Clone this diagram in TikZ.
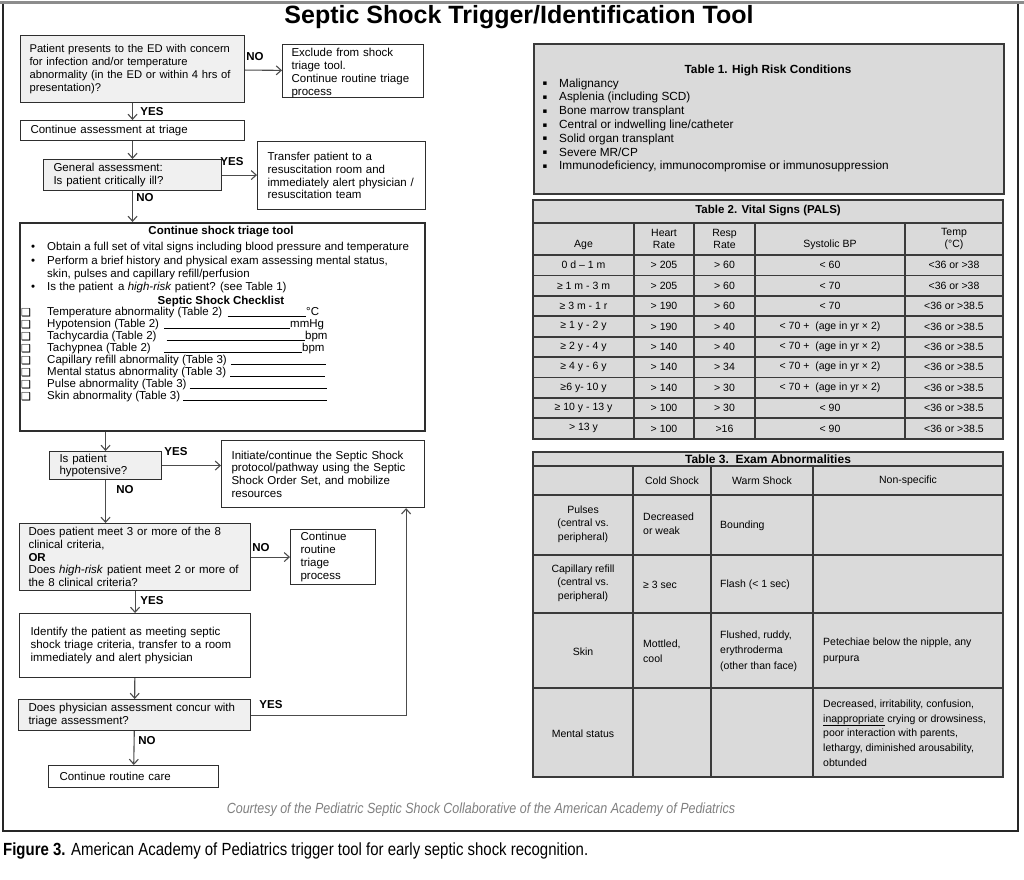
\documentclass[tikz,border=0pt]{standalone}
\usepackage{fontspec}
\setmainfont{Liberation Sans}
\newfontfamily\dejavu{DejaVu Sans}
\newfontfamily\narrowfont[FakeStretch=0.85]{Liberation Sans}
\usetikzlibrary{arrows.meta}
\newcommand{\fcfont}{\fontsize{11.5}{12.7}\selectfont}
\newcommand{\tbfont}{\fontsize{10.5}{12}\selectfont}
\newcommand{\tcfont}{\fontsize{10.5}{14.7}\selectfont}
\newcommand{\tafont}{\fontsize{11.8}{13.8}\selectfont}
\definecolor{boxline}{HTML}{2E2E2E}
\definecolor{tabfill}{HTML}{DADADA}
\definecolor{tabline}{HTML}{3A3A3A}
\definecolor{shadefill}{HTML}{F0F0F0}
\tikzset{
  fbox/.style={draw=boxline, line width=1.1pt, anchor=north west, align=left, font=\fcfont, inner xsep=10pt, inner ysep=0pt, fill=white},
  shaded/.style={fill=shadefill},
  arr/.style={-{Straight Barb[length=5pt,width=9pt]}, draw=black!70, line width=1.1pt},
  lab/.style={font=\fcfont\bfseries, inner sep=0pt},
  txt/.style={font=\fcfont, inner sep=0pt, text height=8pt, text depth=2.5pt, anchor=west},
  chk/.style={font=\dejavu\fontsize{11}{12}\selectfont, inner sep=0pt, anchor=west},
  uline/.style={draw=black, line width=0.8pt},
  tline/.style={draw=tabline, line width=1.8pt},
  t2/.style={font=\tbfont, inner sep=0pt, align=center},
  t3/.style={font=\tcfont, inner sep=0pt, align=center},
  t3l/.style={font=\tcfont, inner sep=0pt, align=left, anchor=west},
  t1/.style={font=\tafont, inner sep=0pt, anchor=west, text height=8.5pt, text depth=2.5pt},
  sq/.style={font=\dejavu\fontsize{7}{8}\selectfont, inner sep=0pt},
}
\begin{document}
\begin{tikzpicture}[x=1pt,y=-1pt]
\useasboundingbox (0,0) rectangle (1024,879);
\fill[white] (0,0) rectangle (1024,879);
% outer frame
\draw[black!85, line width=1.2pt] (3,2) -- (3,831) -- (1018,831) -- (1018,2);
\draw[black!45, line width=2.5pt] (0,2.5) -- (1024,2.5);

\node[font=\fontsize{25}{30}\selectfont\bfseries, inner sep=0pt] (title) at (519,17.5) {Septic Shock Trigger/Identification Tool};

% ---------------- flowchart ----------------
\node[fbox, shaded, inner xsep=9pt, text width=206pt, minimum height=67pt, font=\fontsize{11.2}{12.7}\selectfont] (a) at (20,35)
  {Patient presents to the ED with concern\\for infection and/or temperature\\abnormality (in the ED or within 4 hrs of\\presentation)?};
\node[fbox, inner xsep=9pt, text width=123pt, minimum height=49pt, font=\fontsize{11.5}{12.9}\selectfont] (b) at (282,44)
  {\vphantom{X}\\[-9pt]Exclude from shock\\triage tool.\\Continue routine triage\\process};
\node[fbox, text width=204pt, minimum height=20pt] (c) at (20,120) {Continue assessment at triage};
\node[fbox, shaded, text width=158pt, minimum height=31pt] (d) at (43,159)
  {General assessment:\\Is patient critically ill?};
\node[fbox, text width=148pt, minimum height=68pt] (e) at (257,141)
  {Transfer patient to a\\resuscitation room and\\immediately alert physician /\\resuscitation team};

\node[fbox, line width=2pt, minimum width=405pt, minimum height=208pt, inner sep=0pt] (f) at (19,222) {};
\node[lab] (ftitle) at (221,232) {Continue shock triage tool};
\node[txt] (fb1) at (31,248) {•};
\node[txt] (ft1) at (47,248) {Obtain a full set of vital signs including blood pressure and temperature};
\node[txt] (fb2) at (31,262) {•};
\node[txt] (ft2) at (47,262) {Perform a brief history and physical exam assessing mental status,};
\node[txt] (ft2b) at (47,275) {skin, pulses and capillary refill/perfusion};
\node[txt] (fb3) at (31,288) {•};
\node[txt] (ft3) at (47,288) {Is the patient \,a \textit{high-risk} patient? (see Table 1)};
\node[lab] (ctitle) at (221,302) {Septic Shock Checklist};

\node[chk] (k1) at (21,313) {❑};
\node[txt] (c1) at (47,313) {Temperature abnormality (Table 2)};
\node[txt] (u1) at (306,313) {°C};
\node[chk] (k2) at (21,325) {❑};
\node[txt] (c2) at (47,325) {Hypotension (Table 2)};
\node[txt] (u2) at (290,325) {mmHg};
\node[chk] (k3) at (21,337) {❑};
\node[txt] (c3) at (47,337) {Tachycardia (Table 2)};
\node[txt] (u3) at (305,337) {bpm};
\node[chk] (k4) at (21,349) {❑};
\node[txt] (c4) at (47,349) {Tachypnea (Table 2)};
\node[txt] (u4) at (302,349) {bpm};
\node[chk] (k5) at (21,361) {❑};
\node[txt] (c5) at (47,361) {Capillary refill abnormality (Table 3)};
\node[chk] (k6) at (21,373) {❑};
\node[txt] (c6) at (47,373) {Mental status abnormality (Table 3)};
\node[chk] (k7) at (21,385) {❑};
\node[txt] (c7) at (47,385) {Pulse abnormality (Table 3)};
\node[chk] (k8) at (21,397) {❑};
\node[txt] (c8) at (47,397) {Skin abnormality (Table 3)};
\coordinate (e5) at (326,361.5);
\coordinate (e6) at (325,373.5);
\coordinate (e7) at (327,385.5);
\coordinate (e8) at (327,397.5);
\draw[uline] ([xshift=5pt,yshift=-1pt]c1.base east) -- ([yshift=-1pt]u1.base west);
\draw[uline] ([xshift=5pt,yshift=-1pt]c2.base east) -- ([yshift=-1pt]u2.base west);
\draw[uline] ([xshift=10pt,yshift=-1pt]c3.base east) -- ([yshift=-1pt]u3.base west);
\draw[uline] ([xshift=13pt,yshift=-1pt]c4.base east) -- ([yshift=-1pt]u4.base west);
\draw[uline] ([xshift=4pt,yshift=-1pt]c5.base east) -- ([yshift=-1pt]c5.base east -| e5);
\draw[uline] ([xshift=4pt,yshift=-1pt]c6.base east) -- ([yshift=-1pt]c6.base east -| e6);
\draw[uline] ([xshift=3pt,yshift=-1pt]c7.base east) -- ([yshift=-1pt]c7.base east -| e7);
\draw[uline] ([xshift=3pt,yshift=-1pt]c8.base east) -- ([yshift=-1pt]c8.base east -| e8);

\node[fbox, shaded, text width=92pt, minimum height=28pt] (g) at (49,451) {Is patient\\hypotensive?};
\node[fbox, text width=183pt, minimum height=67pt] (h) at (221,440)
  {Initiate/continue the Septic Shock\\protocol/pathway using the Septic\\Shock Order Set, and mobilize\\resources};
\node[fbox, shaded, inner xsep=9pt, text width=213pt, minimum height=67pt] (i) at (19,523)
  {Does patient meet 3 or more of the 8\\clinical criteria,\\\textbf{OR}\\Does \textit{high-risk} patient meet 2 or more of\\the 8 clinical criteria?};
\node[fbox, text width=65pt, minimum height=55pt] (j) at (290,529) {Continue\\routine\\triage\\process};
\node[fbox, inner xsep=11pt, text width=209pt, minimum height=64pt] (k) at (19,613)
  {Identify the patient as meeting septic\\shock triage criteria, transfer to a room\\immediately and alert physician};
\node[fbox, shaded, inner xsep=10pt, text width=212pt, minimum height=31pt] (l) at (18,699)
  {Does physician assessment concur with\\triage assessment?};
\node[fbox, inner xsep=11pt, text width=148pt, minimum height=22pt] (m) at (48,765) {Continue routine care};

% connectors
\draw[arr] (a) -- (b);
\draw[arr] (a) -- (c);
\draw[arr] (c) -- (d);
\draw[arr] (d.east) -- (d.east -| e.west);
\draw[arr] (d.south) -- (d.south |- f.north);
\draw[arr] (g.north |- f.south) -- (g);
\draw[arr] (g.east) -- (g.east -| h.west);
\draw[arr] (g.south) -- (g.south |- i.north);
\draw[arr] (i) -- (j);
\draw[arr] (i) -- (k);
\draw[arr] (k) -- (l);
\draw[arr] (l.east) -| ([xshift=-19pt]h.south east);
\draw[arr] (l) -- (m);

% labels
\node[lab] (n1) at (255,57) {NO};
\node[lab] (y1) at (152,112) {YES};
\node[lab] (y2) at (232,162) {YES};
\node[lab] (n2) at (145,198) {NO};
\node[lab] (y3) at (176,452) {YES};
\node[lab] (n3) at (125,490) {NO};
\node[lab] (n4) at (261,548) {NO};
\node[lab] (y4) at (152,601) {YES};
\node[lab] (y5) at (271,705) {YES};
\node[lab] (n5) at (147,741) {NO};

% ---------------- Table 1 ----------------
\node[draw=tabline, fill=tabfill, line width=2pt, anchor=north west, minimum width=470pt, minimum height=150pt, inner sep=0pt] (tab1) at (533,43) {};
\node[font=\tafont\bfseries, inner sep=0pt] (tab1t) at (768,70) {Table 1. High Risk Conditions};
\foreach \t [count=\n] in {Malignancy, Asplenia (including SCD), Bone marrow transplant, Central or indwelling line/catheter, Solid organ transplant, Severe MR/CP, {Immunodeficiency, immunocompromise or immunosuppression}} {
  \pgfmathsetmacro\yy{84+(\n-1)*13.8}
  \node[sq] (tab1b\n) at (545,\yy) {▪};
  \node[t1] (tab1i\n) at (559,\yy) {\t};
}

% ---------------- Table 2 ----------------
\node[fill=tabfill, anchor=north west, minimum width=470pt, minimum height=239pt, inner sep=0pt] (tab2) at (533,200) {};
\draw[tline] (533,200) rectangle (1003,439);
\draw[tline] (533,223) -- (1003,223);
\draw[tline] (533,255) -- (1003,255);
\foreach \yy in {275.4,295.8,316.2,336.6,357,377.4,397.8,418.2} {\draw[tline] (533,\yy) -- (1003,\yy);}
\foreach \xx in {634,694,755,905} {\draw[tline] (\xx,223) -- (\xx,439);}
\node[font=\fontsize{11.5}{13}\selectfont\bfseries, inner sep=0pt] (tab2t) at (768,211) {Table 2. Vital Signs (PALS)};
\node[t2] (h21) at (583.5,245) {Age};
\node[t2] (h22) at (664,239) {Heart\\Rate};
\node[t2] (h23) at (724.5,239) {Resp\\Rate};
\node[t2] (h24) at (830,245) {Systolic BP};
\node[t2] (h25) at (954,239) {Temp\\(°C)};
\foreach \ca/\cb/\cc/\cd/\ce [count=\n] in {
  0 d – 1 m/> 205/> 60/< 60/<36 or >38,
  ≥ 1 m - 3 m/> 205/> 60/< 70/<36 or >38,
  ≥ 3 m - 1 r/> 190/> 60/< 70/<36 or >38.5,
  ≥ 1 y - 2 y/> 190/> 40/< 70 + \ (age in yr × 2)/<36 or >38.5,
  ≥ 2 y - 4 y/> 140/> 40/< 70 + \ (age in yr × 2)/<36 or >38.5,
  ≥ 4 y - 6 y/> 140/> 34/< 70 + \ (age in yr × 2)/<36 or >38.5,
  ≥6 y- 10 y/> 140/> 30/< 70 + \ (age in yr × 2)/<36 or >38.5,
  ≥ 10 y - 13 y/> 100/> 30/< 90/<36 or >38.5,
  > 13 y/> 100/>16/< 90/<36 or >38.5} {
  \pgfmathsetmacro\yy{255+(\n-0.5)*20.4}
  \node[t2] (r\n a) at (583.5,\yy) {\ca};
  \node[t2] (r\n b) at (664,\yy) {\cb};
  \node[t2] (r\n c) at (724.5,\yy) {\cc};
  \node[t2] (r\n d) at (830,\yy) {\cd};
  \node[t2] (r\n e) at (954,\yy) {\ce};
}

% ---------------- Table 3 ----------------
\node[fill=tabfill, anchor=north west, minimum width=470pt, minimum height=325pt, inner sep=0pt] (tab3) at (533,452) {};
\draw[tline] (533,452) rectangle (1003,777);
\foreach \yy in {466,495,555,613,688} {\draw[tline] (533,\yy) -- (1003,\yy);}
\foreach \xx in {633,711,813} {\draw[tline] (\xx,466) -- (\xx,777);}
\node[font=\fontsize{12}{14}\selectfont\bfseries, inner sep=0pt] (tab3t) at (768,459) {Table 3.\ \ Exam Abnormalities};
\node[t3] (h32) at (672,481) {Cold Shock};
\node[t3] (h33) at (762,481) {Warm Shock};
\node[t3] (h34) at (908,481) {Non-specific};
\node[t3, font=\fontsize{10.5}{13.5}\selectfont] (p1) at (583,524) {Pulses\\(central vs.\\peripheral)};
\node[t3l, font=\fontsize{10.5}{14}\selectfont] (p2) at (643,524) {Decreased\\or weak};
\node[t3l] (p3) at (720,526) {Bounding};
\node[t3, font=\fontsize{10.5}{13.5}\selectfont] (q1) at (583,583) {Capillary refill\\(central vs.\\peripheral)};
\node[t3l] (q2) at (643,585) {≥ 3 sec};
\node[t3l] (q3) at (720,585) {Flash (< 1 sec)};
\node[t3] (s1) at (583,652) {Skin};
\node[t3l] (s2) at (643,651) {Mottled,\\cool};
\node[t3l, font=\fontsize{10.5}{15.5}\selectfont] (s3) at (720,651) {Flushed, ruddy,\\erythroderma\\(other than face)};
\node[t3l, font=\fontsize{10.5}{16}\selectfont] (s4) at (823,651) {Petechiae below the nipple, any\\purpura};
\node[t3] (m1) at (583,734) {Mental status};
\node[t3l] (m4) at (823,733) {Decreased, irritability, confusion,\\\underline{inappropriate} crying or drowsiness,\\poor interaction with parents,\\lethargy, diminished arousability,\\obtunded};

% ---------------- captions ----------------
\node[font=\narrowfont\itshape\fontsize{14.7}{17}\selectfont, text=black!50, inner sep=0pt] (court) at (481,810)
  {Courtesy of the Pediatric Septic Shock Collaborative of the American Academy of Pediatrics};
\node[font=\narrowfont\fontsize{17.6}{20}\selectfont, inner sep=0pt, anchor=west] (cap) at (3,851)
  {\textbf{Figure 3.} American Academy of Pediatrics trigger tool for early septic shock recognition.};
\end{tikzpicture}
\end{document}
